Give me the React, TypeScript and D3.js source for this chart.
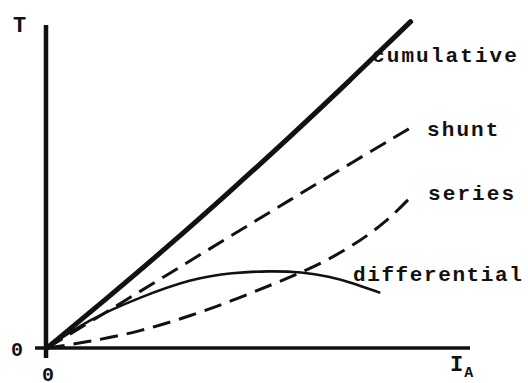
import React from "react";
import * as d3 from "d3";

// Torque vs armature current for DC motor types (arbitrary units)
const cumulativePts: [number, number][] = [
  [0, 0], [1.5, 1.53], [3, 3.1], [4.5, 4.74], [6, 6.42], [7.5, 8.16], [9, 9.95],
];
const shuntPts: [number, number][] = [
  [0, 0], [1.5, 1.12], [3, 2.25], [4.5, 3.38], [6, 4.5], [7.5, 5.62], [9.05, 6.75],
];
const seriesPts: [number, number][] = [
  [0, 0], [1, 0.18], [2.3, 0.5], [3.6, 1.0], [4.6, 1.45], [5.6, 1.95], [6.5, 2.4], [7.5, 3.05], [8.4, 3.84], [9.05, 4.66],
];
const differentialPts: [number, number][] = [
  [0, 0], [1, 0.85], [2.3, 1.55], [3.6, 2.12], [4.6, 2.3], [5.5, 2.35], [6.3, 2.32], [7, 2.18], [7.5, 2.01], [8.25, 1.68],
];

const curveLabels = ["cumulative", "shunt", "series", "differential"];
const axisLabels = { y: "T", x: "I", xSub: "A", origin: "0" };

export default function App() {
  const W = 528;
  const H = 383;
  const x = d3.scaleLinear().domain([0, 10]).range([47, 451]);
  const y = d3.scaleLinear().domain([0, 10]).range([348, 20]);
  const smooth = d3
    .line<[number, number]>()
    .x((d) => x(d[0]))
    .y((d) => y(d[1]))
    .curve(d3.curveBasis);

  const font = "'Liberation Mono', 'DejaVu Sans Mono', monospace";
  const labelStyle: React.CSSProperties = {
    fontFamily: font,
    fontWeight: 700,
    fontSize: 21,
    letterSpacing: 2.1,
  };

  return (
    <svg
      width={W}
      height={H}
      style={{ position: "absolute", left: 0, top: 0, background: "#fff" }}
    >
      {/* axes */}
      <line x1={x(0) - 1} y1={25} x2={x(0) - 1} y2={358} stroke="#111" strokeWidth={4.5} />
      <line x1={35} y1={y(0)} x2={470} y2={y(0)} stroke="#111" strokeWidth={3.5} />

      {/* curves */}
      <path d={smooth(cumulativePts) ?? ""} fill="none" stroke="#111" strokeWidth={5} strokeLinecap="round" />
      <path d={smooth(shuntPts) ?? ""} fill="none" stroke="#111" strokeWidth={3} strokeDasharray="18 9" />
      <path d={smooth(seriesPts) ?? ""} fill="none" stroke="#111" strokeWidth={3} strokeDasharray="18 9" />
      <path d={smooth(differentialPts) ?? ""} fill="none" stroke="#111" strokeWidth={2.6} />

      {/* curve labels */}
      <text x={372} y={62} style={labelStyle} fill="#111">{curveLabels[0]}</text>
      <text x={427} y={136} style={labelStyle} fill="#111">{curveLabels[1]}</text>
      <text x={428} y={200} style={labelStyle} fill="#111">{curveLabels[2]}</text>
      <text x={353} y={281} style={{ ...labelStyle, letterSpacing: 1.6 }} fill="#111">{curveLabels[3]}</text>

      {/* axis labels */}
      <text x={13} y={32} style={{ fontFamily: font, fontWeight: 700, fontSize: 22 }} fill="#111">{axisLabels.y}</text>
      <text x={11} y={356} style={{ fontFamily: font, fontWeight: 700, fontSize: 20 }} fill="#111">{axisLabels.origin}</text>
      <text x={42} y={381} style={{ fontFamily: font, fontWeight: 700, fontSize: 20 }} fill="#111">{axisLabels.origin}</text>
      <text x={450} y={371} style={{ fontFamily: font, fontWeight: 700, fontSize: 22 }} fill="#111">
        {axisLabels.x}
        <tspan dx={1} dy={6} style={{ fontSize: 15 }}>{axisLabels.xSub}</tspan>
      </text>
    </svg>
  );
}
